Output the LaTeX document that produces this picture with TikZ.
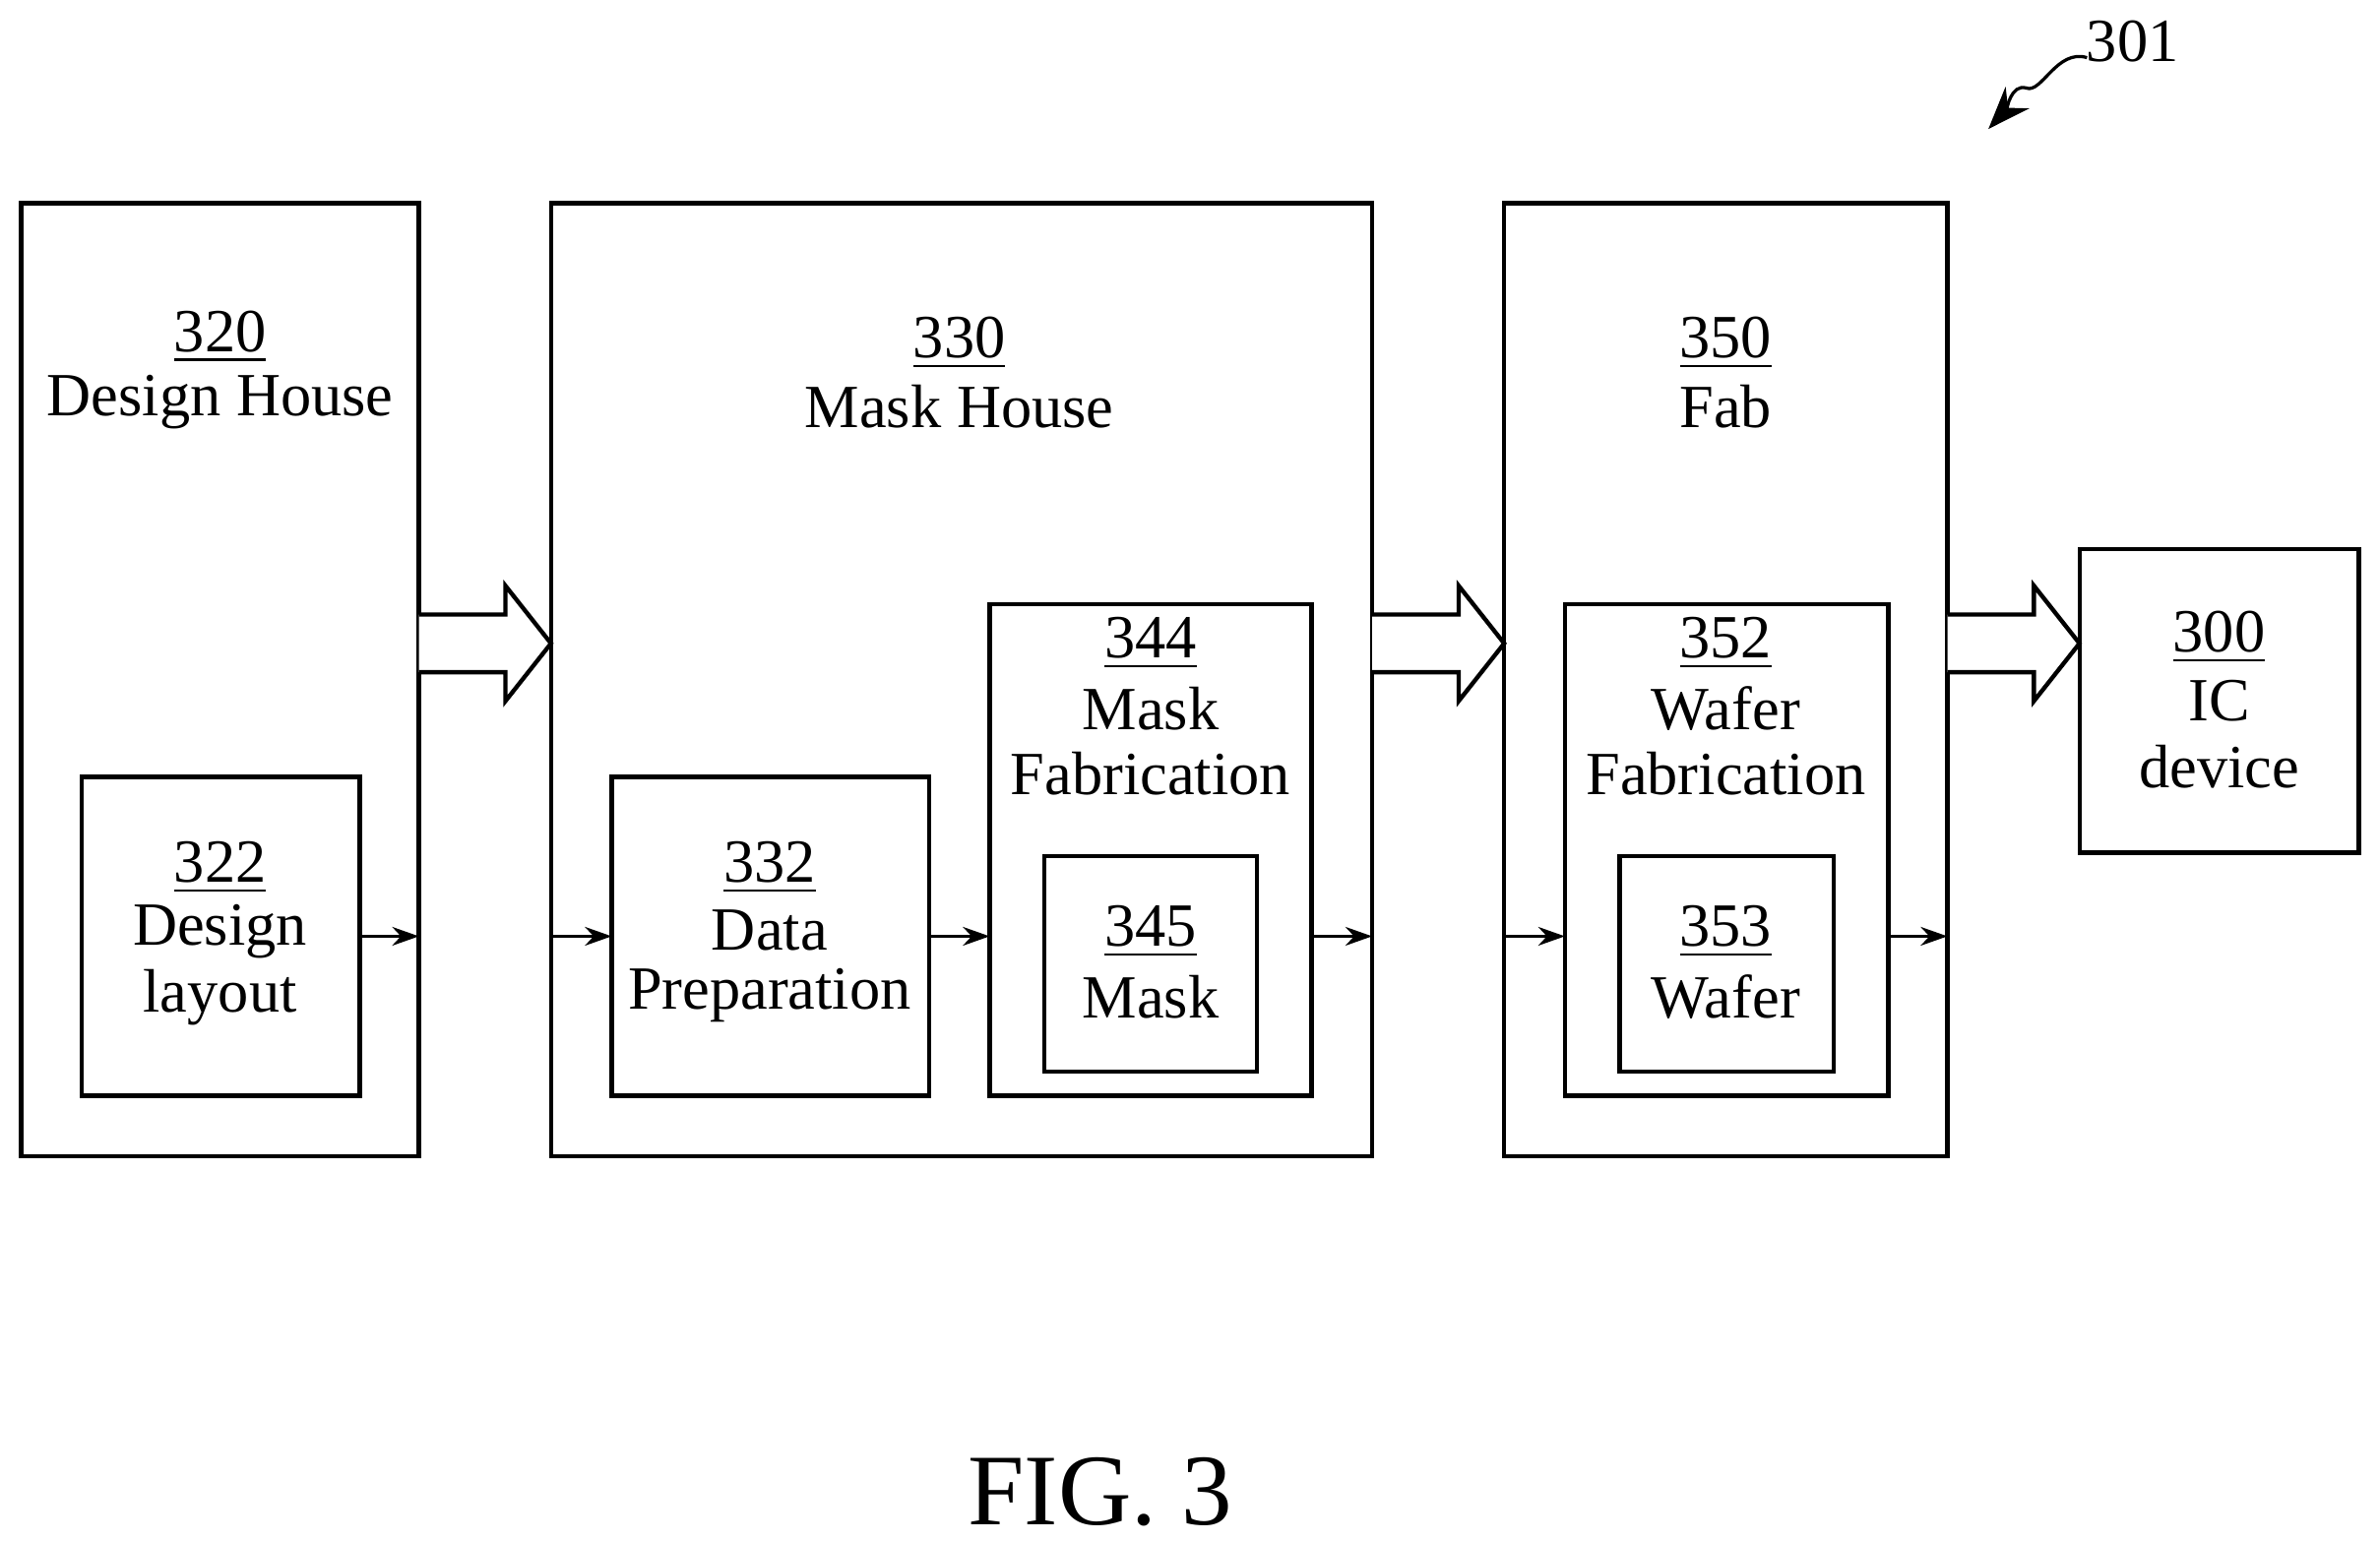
\documentclass[tikz,border=0pt]{standalone}
\usepackage{fontspec}
\setmainfont{Liberation Serif}
\usetikzlibrary{arrows.meta}
\begin{document}
\begin{tikzpicture}[x=0.01cm,y=-0.01cm,
 box/.style={draw,line width=0.8pt},
 t/.style={font=\fontsize{11.5}{13}\selectfont,inner sep=0pt},
 sa/.style={-{Stealth[length=5pt,width=3.5pt]},line width=0.6pt},
 big/.style={draw,line width=0.8pt,fill=white}]
\useasboundingbox (0,0) rectangle (1568,1015);
\draw[box] (14,134) rectangle (276,762);
\draw[box] (54,512) rectangle (237,722);
\draw[box] (363,134) rectangle (904,762);
\draw[box] (403,512) rectangle (612,722);
\draw[box] (652,398) rectangle (864,722);
\draw[box] (688,564) rectangle (828,706);
\draw[box] (991,134) rectangle (1283,762);
\draw[box] (1031,398) rectangle (1244,722);
\draw[box] (1067,564) rectangle (1208,706);
\draw[box] (1370,362) rectangle (1554,562);
\node[t] (a1) at (145,222) {\underline{320}};
\node[t] (a2) at (145,265) {Design House};
\node[t] (b1) at (145,572) {\underline{322}};
\node[t] (b2) at (145,614) {Design};
\node[t] (b3) at (145,657) {layout};
\node[t] (c1) at (632,226) {\underline{330}};
\node[t] (c2) at (632,268) {Mask House};
\node[t] (d1) at (507,572) {\underline{332}};
\node[t] (d2) at (507,613) {Data};
\node[t] (d3) at (507,656) {Preparation};
\node[t] (e1) at (758,424) {\underline{344}};
\node[t] (e2) at (758,467) {Mask};
\node[t] (e3) at (758,510) {Fabrication};
\node[t] (f1) at (758,614) {\underline{345}};
\node[t] (f2) at (758,657) {Mask};
\node[t] (g1) at (1137,226) {\underline{350}};
\node[t] (g2) at (1137,268) {Fab};
\node[t] (h1) at (1137,424) {\underline{352}};
\node[t] (h2) at (1137,467) {Wafer};
\node[t] (h3) at (1137,510) {Fabrication};
\node[t] (i1) at (1137,614) {\underline{353}};
\node[t] (i2) at (1137,657) {Wafer};
\node[t] (j1) at (1462,420) {\underline{300}};
\node[t] (j2) at (1462,462) {IC};
\node[t] (j3) at (1462,505) {device};
\foreach \xa/\xb in {237/276,363/403,612/652,864/904,991/1031,1244/1283}
  \draw[sa] (\xa,617) -- (\xb,617);
\foreach \xa/\xb/\xh in {276/363/333,904/991/961,1283/1370/1340}
  \draw[big] (\xa,405) -- (\xh,405) -- (\xh,386) -- (\xb,424) -- (\xh,462) -- (\xh,443) -- (\xa,443);
\node[t] (n301) at (1405,27) {301};
\coordinate (s) at (1375,38);
\coordinate (e) at (1310,85);
\draw[line width=0.6pt,-{Stealth[length=8pt,width=6pt]}] (s) .. controls (1355,32) and (1345,62) .. (1335,58) .. controls (1325,55) and (1322,72) .. (e);
\node[inner sep=0pt,font=\fontsize{19}{22}\selectfont] (fig) at (725,983) {FIG. 3};
\end{tikzpicture}
\end{document}
